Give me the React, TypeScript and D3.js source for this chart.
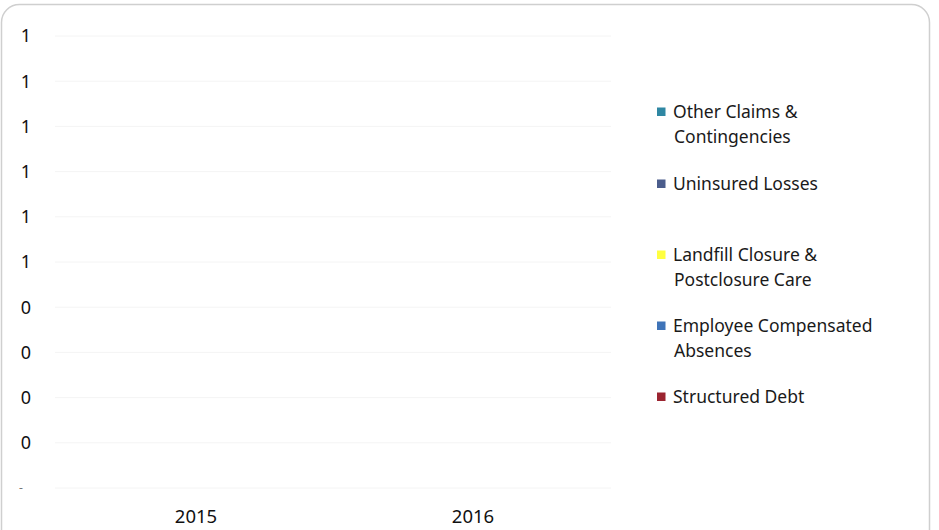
import React from "react";
import * as d3 from "d3";

const categories = ["2015", "2016"];
const seriesNames = [
  "Structured Debt",
  "Employee Compensated Absences",
  "Landfill Closure & Postclosure Care",
  "Uninsured Losses",
  "Other Claims & Contingencies",
];
const seriesColors = ["#9b2430", "#3f74b8", "#ffff40", "#4b5d8c", "#2f87a3"];
const structuredDebt = [0, 0];
const employeeAbsences = [0, 0];
const landfill = [0, 0];
const uninsured = [0, 0];
const otherClaims = [0, 0];
const yTicks = [0, 0.1, 0.2, 0.3, 0.4, 0.5, 0.6, 0.7, 0.8, 0.9, 1.0];

const legendItems = [
  { name: "Other Claims & Contingencies", lines: ["Other Claims &", "Contingencies"], color: "#2f87a3" },
  { name: "Uninsured Losses", lines: ["Uninsured Losses"], color: "#4b5d8c" },
  { name: "Landfill Closure & Postclosure Care", lines: ["Landfill Closure &", "Postclosure Care"], color: "#ffff40" },
  { name: "Employee Compensated Absences", lines: ["Employee Compensated", "Absences"], color: "#3f74b8" },
  { name: "Structured Debt", lines: ["Structured Debt"], color: "#9b2430" },
];

const W = 939;
const H = 530;
const FONT = "'Noto Sans', 'Open Sans', sans-serif";

export default function App() {
  const x = d3.scaleBand().domain(categories).range([57.5, 611.5]).paddingInner(0.5).paddingOuter(0.25);
  const y = d3.scaleLinear().domain([0, 1]).range([488, 36]);

  const table = categories.map((c, i) => ({
    cat: c,
    "Structured Debt": structuredDebt[i],
    "Employee Compensated Absences": employeeAbsences[i],
    "Landfill Closure & Postclosure Care": landfill[i],
    "Uninsured Losses": uninsured[i],
    "Other Claims & Contingencies": otherClaims[i],
  }));
  const stacked = d3.stack<any>().keys(seriesNames)(table);

  const fmt = (v: number) => {
    const r = Math.round(v + 1e-9);
    return Math.abs(v) < 1e-9 ? "-" : d3.format(",")(r);
  };

  const legendY = [112, 184, 255, 326, 397];

  return (
    <svg
      width={W}
      height={H}
      style={{ position: "absolute", left: 0, top: 0, background: "#fff" }}
      fontFamily={FONT}
    >
      <rect x={0} y={0} width={W} height={H} fill="#fff" />
      <rect x={1.5} y={4.5} width={928} height={560} rx={18} ry={18} fill="none" stroke="#cfcfcf" strokeWidth={1.5} />

      {yTicks.map((t) => (
        <line key={"g" + t} x1={55} x2={611} y1={y(t)} y2={y(t)} stroke="#f4f4f4" strokeWidth={1} />
      ))}

      {yTicks.map((t) => (
        <text
          key={"yl" + t}
          x={t === 0 ? 21 : 26}
          y={y(t)}
          dy="0.35em"
          textAnchor="middle"
          fontSize={t === 0 ? 12 : 18}
          fill={t === 0 ? "#777" : "#111"}
        >
          {fmt(t)}
        </text>
      ))}

      {stacked.map((s, si) => (
        <g key={s.key} fill={seriesColors[si]}>
          {s.map((d, i) => (
            <rect
              key={i}
              x={x(categories[i])}
              width={x.bandwidth()}
              y={y(d[1])}
              height={Math.max(0, y(d[0]) - y(d[1]))}
            />
          ))}
        </g>
      ))}

      {categories.map((c) => (
        <text key={c} x={(x(c) as number) + x.bandwidth() / 2} y={523} textAnchor="middle" fontSize={18.5} fill="#111">
          {c}
        </text>
      ))}

      {legendItems.map((it, i) => (
        <g key={it.name}>
          <rect x={657} y={legendY[i] - 4.5} width={8.5} height={8.5} fill={it.color} />
          {it.lines.map((ln, j) => (
            <text key={j} x={j === 0 ? 673 : 674} y={legendY[i] + j * 24.5} dy="0.35em" fontSize={17.5} fill="#1a1a1a">
              {ln}
            </text>
          ))}
        </g>
      ))}
    </svg>
  );
}
